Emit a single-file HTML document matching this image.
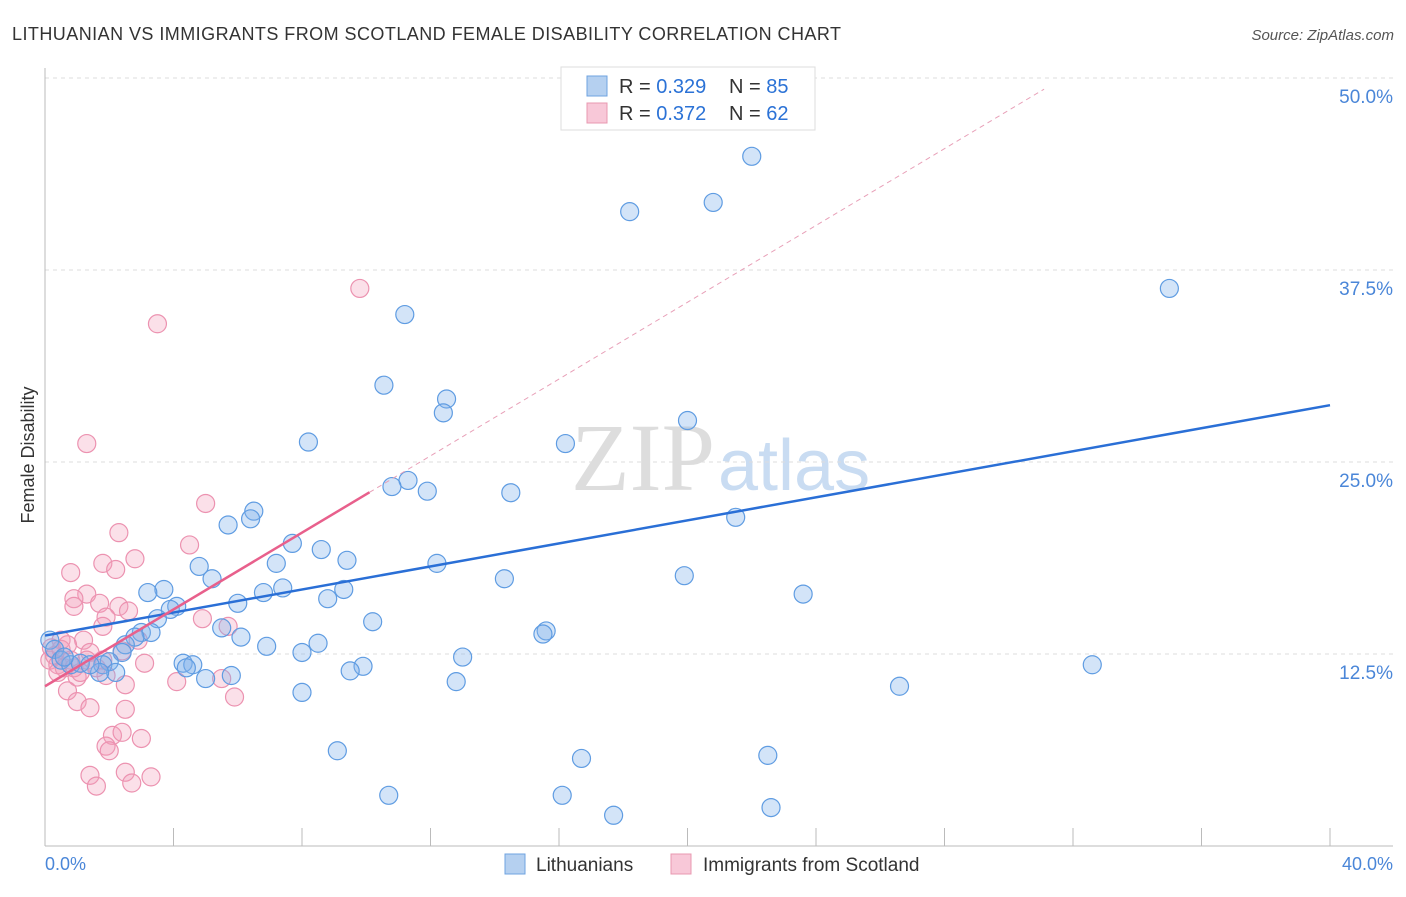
<!DOCTYPE html>
<html><head><meta charset="utf-8"><style>
body{margin:0;background:#fff;font-family:"Liberation Sans",sans-serif;}
svg text{font-family:"Liberation Sans",sans-serif;}
</style></head><body>
<svg id="chart" width="1406" height="892">
<text x="12" y="40" font-size="18" fill="#333" letter-spacing="0.45">LITHUANIAN VS IMMIGRANTS FROM SCOTLAND FEMALE DISABILITY CORRELATION CHART</text>
<text x="1394" y="40" font-size="15" fill="#555" font-style="italic" text-anchor="end">Source: ZipAtlas.com</text>
<text x="715" y="490" font-size="96" fill="#ddd" text-anchor="end" style="font-family:'Liberation Serif',serif">ZIP</text>
<text x="718" y="490" font-size="72" fill="#c9dcf2">atlas</text>
<g id="grid"></g>
<g id="axes"></g>
<g id="marks"></g>
<text transform="translate(34,455) rotate(-90)" font-size="18" fill="#333" text-anchor="middle">Female Disability</text>
<text x="45" y="870" font-size="18" fill="#4a86d8">0.0%</text>
<text x="1393" y="870" font-size="18" fill="#4a86d8" text-anchor="end">40.0%</text>
<g>
<rect x="561" y="67" width="254" height="63" fill="#fff" stroke="#ddd"/>
<rect x="587" y="76" width="20" height="20" fill="#b5d0f0" stroke="#6fa3e0"/>
<rect x="587" y="103" width="20" height="20" fill="#f8c8d8" stroke="#e898b0"/>
<text x="619" y="93" font-size="20" fill="#333">R = <tspan fill="#2b72d6">0.329</tspan></text>
<text x="729" y="93" font-size="20" fill="#333">N = <tspan fill="#2b72d6">85</tspan></text>
<text x="619" y="120" font-size="20" fill="#333">R = <tspan fill="#2b72d6">0.372</tspan></text>
<text x="729" y="120" font-size="20" fill="#333">N = <tspan fill="#2b72d6">62</tspan></text>
</g>
<g>
<rect x="505" y="854" width="20" height="20" fill="#b5d0f0" stroke="#6fa3e0"/>
<text x="536" y="871" font-size="19" fill="#333">Lithuanians</text>
<rect x="671" y="854" width="20" height="20" fill="#f8c8d8" stroke="#e898b0"/>
<text x="703" y="871" font-size="19" fill="#333">Immigrants from Scotland</text>
</g>
</svg>
<script>
const yTicks=[12.5,25,37.5,50];
const yTickLabels=["12.5%","25.0%","37.5%","50.0%"];
const xTicks=[0,4,8,12,16,20,24,28,32,36,40];
const blueX=[22.0,20.8,18.2,35.0,11.2,10.55,12.5,12.4,20.0,8.2,16.2,11.3,10.8,11.9,14.5,6.5,6.4,5.7,21.5,7.7,8.6,9.4,7.2,12.2,4.8,5.2,14.3,19.9,3.7,7.4,9.3,3.2,6.8,23.6,8.8,6.0,4.1,3.9,3.5,10.2,5.5,3.0,3.3,15.6,15.5,2.8,6.1,2.5,6.9,8.5,0.15,2.4,8.0,13.0,2.0,1.8,4.3,4.6,4.4,9.9,9.5,32.6,5.8,5.0,2.2,1.7,12.8,8.0,26.6,9.1,16.7,22.5,10.7,16.1,22.6,17.7,0.3,0.5,0.8,1.1,1.4,0.6];
const blueY=[44.9,41.9,41.3,36.3,34.6,30.0,29.1,28.2,27.7,26.3,26.2,23.8,23.4,23.1,23.0,21.8,21.3,20.9,21.4,19.7,19.3,18.6,18.4,18.4,18.2,17.4,17.4,17.6,16.7,16.8,16.7,16.5,16.5,16.4,16.1,15.8,15.6,15.4,14.8,14.6,14.2,13.9,13.9,14.0,13.8,13.6,13.6,13.1,13.0,13.2,13.4,12.6,12.6,12.3,12.0,11.8,11.9,11.8,11.6,11.7,11.4,11.8,11.1,10.9,11.3,11.3,10.7,10.0,10.4,6.2,5.7,5.9,3.3,3.3,2.5,2.0,12.8,12.1,11.8,11.9,11.8,12.3];
const pinkX=[9.8,3.5,1.3,5.0,2.3,4.5,2.8,1.8,2.2,0.8,1.3,0.9,0.9,1.7,2.3,2.6,1.9,1.8,4.9,5.7,2.9,1.2,0.5,2.4,1.4,3.1,1.9,1.0,0.7,2.5,4.1,5.5,5.9,1.0,1.4,2.5,3.0,2.1,2.4,1.9,2.0,1.4,2.5,3.3,2.7,1.6,0.15,0.3,0.4,0.5,0.6,0.8,0.9,0.2,1.3,1.6,0.7,0.4,1.1,1.8];
const pinkY=[36.3,34.0,26.2,22.3,20.4,19.6,18.7,18.4,18.0,17.8,16.4,16.1,15.6,15.8,15.6,15.3,14.9,14.3,14.8,14.3,13.4,13.4,13.4,12.7,12.6,11.9,11.1,11.0,10.1,10.5,10.7,10.9,9.7,9.4,9.0,8.9,7.0,7.2,7.4,6.5,6.2,4.6,4.8,4.5,4.1,3.9,12.1,12.4,11.8,12.8,11.6,12.1,11.6,12.9,12.1,11.6,13.1,11.3,11.3,12.1];
const blueTrend=[13.7,28.7];
const pinkTrend=[10.4,1.25];
const pinkSolidEnd=10.1;
const pinkDashEnd=31.1;
const NS="http://www.w3.org/2000/svg";
const X=v=>45+v/40*1285, Y=v=>846-v/50*768;
function mk(tag,attrs,parent){const e=document.createElementNS(NS,tag);for(const k in attrs)e.setAttribute(k,attrs[k]);parent.appendChild(e);return e;}
const grid=document.getElementById('grid'),axes=document.getElementById('axes'),marks=document.getElementById('marks');
yTicks.forEach((t,i)=>{
 const l=mk('line',{x1:45,x2:1393,y1:Y(t),y2:Y(t),stroke:'#ddd','stroke-dasharray':'4,4'},grid);
 
 
 const tx=mk('text',{x:1393,y:Y(t)+25,'font-size':19,fill:'#4a86d8','text-anchor':'end'},axes);
 tx.textContent=yTickLabels[i];
 
 
});
const ax=mk('line',{x1:45,x2:1393,y1:846,y2:846,stroke:'#bbb'},axes);


const ay=mk('line',{x1:45,x2:45,y1:68,y2:846,stroke:'#bbb'},axes);


xTicks.forEach(t=>{
 const l=mk('line',{x1:X(t),x2:X(t),y1:828,y2:846,stroke:'#bbb'},axes);
 
 
});
pinkX.forEach((v,i)=>{
 const c=mk('circle',{cx:X(v),cy:Y(pinkY[i]),r:9,fill:'rgba(244,160,188,0.32)',stroke:'#ec92b0','stroke-width':1.2},marks);
 
 
});
blueX.forEach((v,i)=>{
 const c=mk('circle',{cx:X(v),cy:Y(blueY[i]),r:9,fill:'rgba(130,178,235,0.35)',stroke:'#5f9ce2','stroke-width':1.2},marks);
 
 
});
const bl=mk('line',{x1:X(0),y1:Y(blueTrend[0]),x2:X(40),y2:Y(blueTrend[1]),stroke:'#2a6fd6','stroke-width':2.5},marks);


const pd=mk('line',{x1:X(pinkSolidEnd),y1:Y(pinkTrend[0]+pinkTrend[1]*pinkSolidEnd),x2:X(pinkDashEnd),y2:Y(pinkTrend[0]+pinkTrend[1]*pinkDashEnd),stroke:'#e8a0b8','stroke-width':1,'stroke-dasharray':'5,4'},marks);


const ps=mk('line',{x1:X(0),y1:Y(pinkTrend[0]),x2:X(pinkSolidEnd),y2:Y(pinkTrend[0]+pinkTrend[1]*pinkSolidEnd),stroke:'#e8608c','stroke-width':2.5},marks);


</script>
</body></html>
